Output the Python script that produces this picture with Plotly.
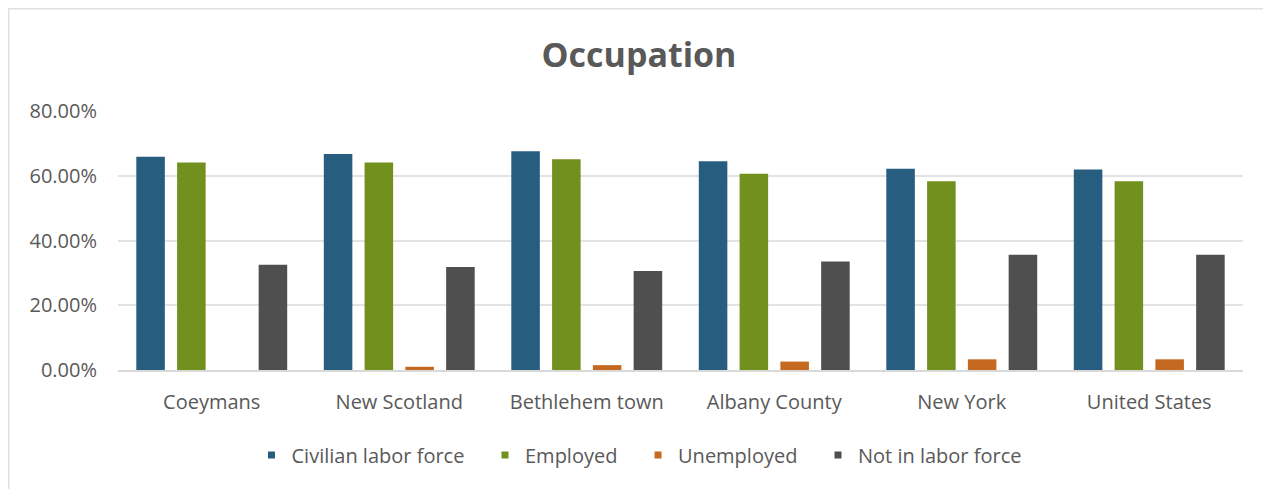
import plotly.graph_objects as go

categories = ["Coeymans", "New Scotland", "Bethlehem town", "Albany County", "New York", "United States"]
civilian_labor_force = [0.659, 0.667, 0.676, 0.645, 0.622, 0.619]
employed = [0.641, 0.641, 0.651, 0.606, 0.583, 0.583]
unemployed = [0.0, 0.010, 0.015, 0.026, 0.033, 0.033]
not_in_labor_force = [0.325, 0.318, 0.306, 0.335, 0.356, 0.356]
tick_values = [0, 0.2, 0.4, 0.6, 0.8]

series = [
    ("Civilian labor force", civilian_labor_force, "#275e80"),
    ("Employed", employed, "#72901d"),
    ("Unemployed", unemployed, "#c4691f"),
    ("Not in labor force", not_in_labor_force, "#4f4f4f"),
]

FONT = "Open Sans, Noto Sans, sans-serif"
GRAY = "#595959"

fig = go.Figure()
for name, vals, color in series:
    fig.add_trace(go.Bar(
        x=categories, y=vals, name=name, showlegend=False,
        marker=dict(color=color, line=dict(width=0)),
    ))
# legend entries with small square keys
for name, vals, color in series:
    fig.add_trace(go.Scatter(
        x=[None], y=[None], mode="markers", name=name + "   ",
        marker=dict(symbol="square", size=7, color=color),
    ))

# the page body adds an 8px offset; figure is sized to fit the window
OFF = 8
W, H = 1271 - OFF, 489 - OFF
ml, mr, mt, mb = 118 - OFF, 28, 111 - OFF, 119
pw, ph = W - ml - mr, H - mt - mb

def px_x(p):
    return (p - ml) / pw

def px_y(p):
    return (H - mb - p) / ph

fig.update_layout(
    width=W, height=H,
    margin=dict(l=ml, r=mr, t=mt, b=mb),
    paper_bgcolor="white", plot_bgcolor="white",
    barmode="group", bargap=0.13, bargroupgap=0.30,
    title=dict(text="<b>Occupation</b>", x=(639 - OFF) / W, xanchor="center",
               y=1 - (55 - OFF) / H, yanchor="middle",
               font=dict(family=FONT, size=34, color=GRAY)),
    font=dict(family=FONT, size=20, color=GRAY),
    legend=dict(orientation="h", x=(647 - OFF) / W, xref="container", xanchor="center",
                y=1 - (455 - OFF) / H, yref="container", yanchor="middle",
                font=dict(family=FONT, size=20, color=GRAY),
                itemwidth=30, tracegroupgap=0),
    xaxis=dict(showgrid=False, showline=True, linecolor="#d9d9d9", linewidth=1.5,
               ticks="", tickfont=dict(size=20, color=GRAY), ticklabelstandoff=13),
    yaxis=dict(range=[0, 0.8], tickvals=tick_values, tickformat=".2%",
               showgrid=True, gridcolor="#e3e3e3", gridwidth=1.5,
               zeroline=False, showline=False, ticks="",
               tickfont=dict(size=20, color=GRAY), ticklabelstandoff=20),
)

# chart area border (left and top edges visible)
fig.add_shape(type="line", xref="paper", yref="paper",
              x0=px_x(0), x1=px_x(W + 5), y0=px_y(0.5), y1=px_y(0.5),
              line=dict(color="#e0e0e0", width=2))
fig.add_shape(type="line", xref="paper", yref="paper",
              x0=px_x(0.5), x1=px_x(0.5), y0=px_y(0), y1=px_y(H + 5),
              line=dict(color="#e0e0e0", width=2))

fig.write_html("out.html")
